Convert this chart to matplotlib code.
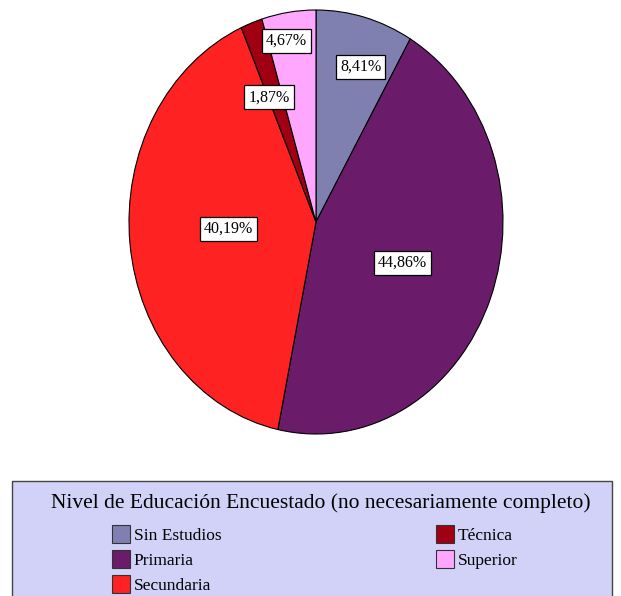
import matplotlib
matplotlib.use("Agg")
import matplotlib.pyplot as plt
import matplotlib.patches as mpatches
import numpy as np

plt.rcParams['font.family'] = ['Liberation Serif', 'DejaVu Serif']

categorias = ['Sin Estudios', 'Primaria', 'Secundaria', 'Técnica', 'Superior']
porcentajes = [8.41, 44.86, 40.19, 1.87, 4.67]
etiquetas = ['8,41%', '44,86%', '40,19%', '1,87%', '4,67%']
colores = ['#8080b0', '#6a1c6a', '#ff2222', '#a00012', '#ffa6ff']
# where each label sits, as a fraction of the radius, and a small angle shift
dist_etiqueta = [0.77, 0.50, 0.47, 0.64, 0.87]
giro_etiqueta = [-3, -1.5, -2, 3, 2]

fig = plt.figure(figsize=(6.21, 5.96), dpi=100)
ax = fig.add_axes([129 / 621, 1 - 434 / 596, 374 / 621, 424 / 596])

wedges, _ = ax.pie(porcentajes, colors=colores, startangle=90, counterclock=False,
                   wedgeprops=dict(edgecolor='black', linewidth=0.8))
ax.set_aspect('auto')
ax.set_xlim(-1, 1)
ax.set_ylim(-1, 1)

for w, txt, r, g in zip(wedges, etiquetas, dist_etiqueta, giro_etiqueta):
    ang = np.deg2rad((w.theta1 + w.theta2) / 2 + g)
    ax.text(r * np.cos(ang), r * np.sin(ang), txt, ha='center', va='center', fontsize=11.5,
            bbox=dict(boxstyle='square,pad=0.25', fc='white', ec='black', lw=0.9))

# legend panel
caja = mpatches.Rectangle((12 / 621, -0.02), 600 / 621, (596 - 481) / 596 + 0.02,
                          transform=fig.transFigure, fc='#d2d2f8', ec='#444444', lw=1)
fig.patches.append(caja)
fig.text(321 / 621, 1 - 503 / 596, 'Nivel de Educación Encuestado (no necesariamente completo)',
         ha='center', va='center', fontsize=15.5)

handles = [mpatches.Patch(fc=c, ec='#333333', lw=0.8) for c in colores]
fig.legend(handles, categorias, loc='upper left', bbox_to_anchor=(112 / 621, 1 - 525 / 596),
           ncol=2, frameon=False, fontsize=12.5, handlelength=1.05, handleheight=1.2,
           handletextpad=0.2, labelspacing=0.36, columnspacing=12.35, borderpad=0,
           borderaxespad=0)

fig.savefig('out.png', dpi=100)
